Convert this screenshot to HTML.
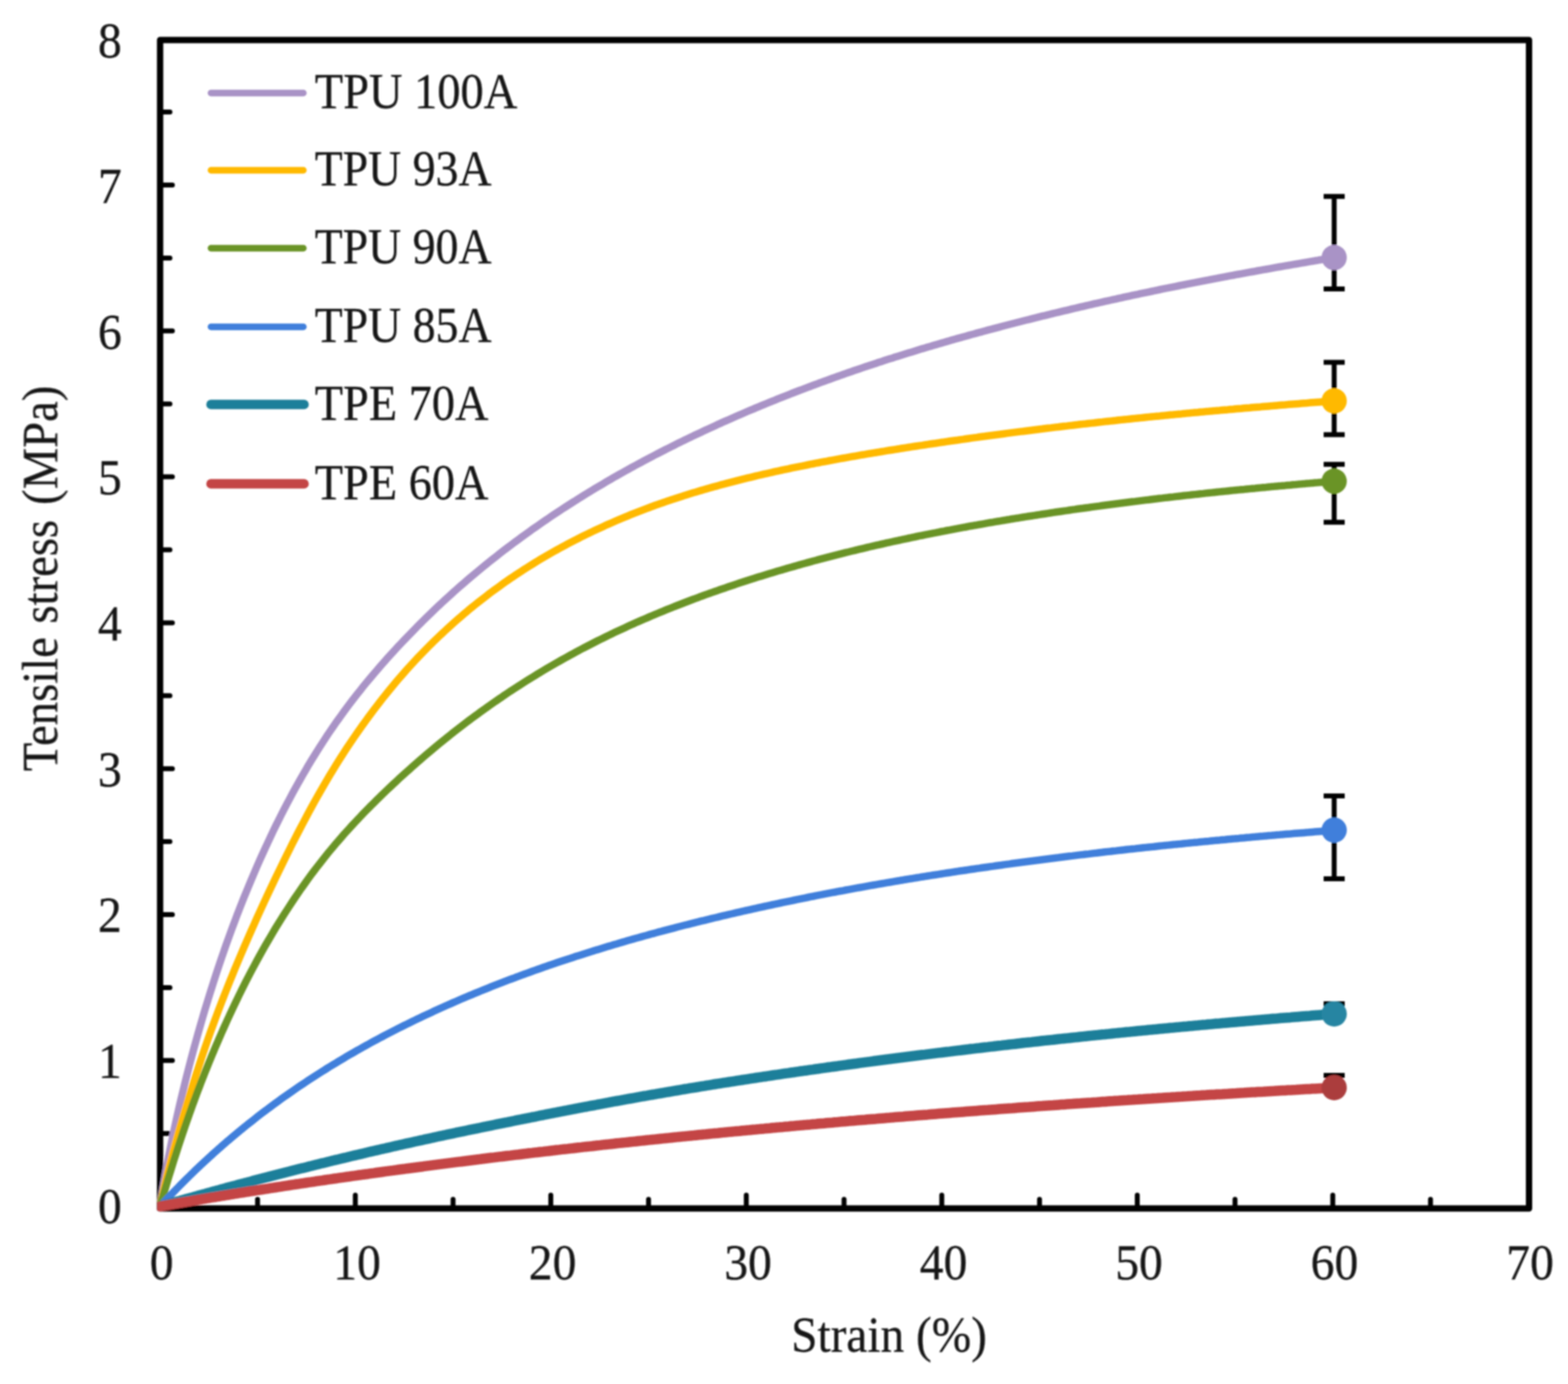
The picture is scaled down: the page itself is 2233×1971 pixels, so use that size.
<!DOCTYPE html>
<html lang="en">
<head>
<meta charset="utf-8">
<title>Tensile stress vs strain</title>
<style>
html,body{margin:0;padding:0;background:#fff;}
body{width:2233px;height:1971px;overflow:hidden;}
svg{display:block;}
text{font-family:"Liberation Serif","DejaVu Serif",serif;fill:#141414;stroke:#141414;stroke-width:0.35px;stroke-linejoin:round;}
</style>
</head>
<body>
<svg width="2233" height="1971" viewBox="0 0 2233 1971">
<defs>
<clipPath id="plotclip"><rect x="223.5" y="57.0" width="1958.5" height="1668.0"/></clipPath>
<filter id="soft" x="0" y="0" width="2233" height="1971" filterUnits="userSpaceOnUse"><feGaussianBlur stdDeviation="1.1"/></filter>
</defs>
<rect x="0" y="0" width="2233" height="1971" fill="#ffffff"/>
<g filter="url(#soft)">

<rect x="228.0" y="57.0" width="1949.5" height="1664.0" fill="none" stroke="#000" stroke-width="9" stroke-linejoin="round"/>
<g stroke="#000" stroke-width="7" stroke-linecap="round" fill="none">
<line x1="366.8" y1="1721.0" x2="366.8" y2="1708.0"/>
<line x1="506.0" y1="1721.0" x2="506.0" y2="1702.0"/>
<line x1="645.2" y1="1721.0" x2="645.2" y2="1708.0"/>
<line x1="784.4" y1="1721.0" x2="784.4" y2="1702.0"/>
<line x1="923.6" y1="1721.0" x2="923.6" y2="1708.0"/>
<line x1="1062.8" y1="1721.0" x2="1062.8" y2="1702.0"/>
<line x1="1202.0" y1="1721.0" x2="1202.0" y2="1708.0"/>
<line x1="1341.2" y1="1721.0" x2="1341.2" y2="1702.0"/>
<line x1="1480.4" y1="1721.0" x2="1480.4" y2="1708.0"/>
<line x1="1619.6" y1="1721.0" x2="1619.6" y2="1702.0"/>
<line x1="1758.8" y1="1721.0" x2="1758.8" y2="1708.0"/>
<line x1="1898.0" y1="1721.0" x2="1898.0" y2="1702.0"/>
<line x1="2037.2" y1="1721.0" x2="2037.2" y2="1708.0"/>
<line x1="228.0" y1="1614.2" x2="242.0" y2="1614.2"/>
<line x1="228.0" y1="1510.3" x2="245.5" y2="1510.3"/>
<line x1="228.0" y1="1406.4" x2="242.0" y2="1406.4"/>
<line x1="228.0" y1="1302.5" x2="245.5" y2="1302.5"/>
<line x1="228.0" y1="1198.6" x2="242.0" y2="1198.6"/>
<line x1="228.0" y1="1094.7" x2="245.5" y2="1094.7"/>
<line x1="228.0" y1="990.8" x2="242.0" y2="990.8"/>
<line x1="228.0" y1="886.9" x2="245.5" y2="886.9"/>
<line x1="228.0" y1="783.0" x2="242.0" y2="783.0"/>
<line x1="228.0" y1="679.1" x2="245.5" y2="679.1"/>
<line x1="228.0" y1="575.2" x2="242.0" y2="575.2"/>
<line x1="228.0" y1="471.3" x2="245.5" y2="471.3"/>
<line x1="228.0" y1="367.4" x2="242.0" y2="367.4"/>
<line x1="228.0" y1="263.5" x2="245.5" y2="263.5"/>
<line x1="228.0" y1="159.6" x2="242.0" y2="159.6"/>
</g>
<g fill="none" stroke-linejoin="round" stroke-linecap="round" clip-path="url(#plotclip)">
<path d="M228.0,1718.0 L230.0,1705.0 L232.0,1692.6 L234.0,1680.8 L236.0,1669.4 L238.0,1658.5 L240.0,1647.9 L242.0,1637.7 L244.0,1627.8 L246.0,1618.1 L248.0,1608.7 L250.0,1599.5 L252.0,1590.5 L254.0,1581.6 L256.0,1573.0 L258.0,1564.5 L260.0,1556.1 L262.0,1547.9 L264.0,1539.8 L266.0,1531.9 L268.0,1524.0 L270.0,1516.3 L272.0,1508.6 L274.0,1501.1 L276.0,1493.7 L278.0,1486.4 L280.0,1479.1 L282.0,1472.0 L284.0,1465.0 L286.0,1458.0 L288.0,1451.1 L290.0,1444.3 L292.0,1437.6 L294.0,1431.0 L296.0,1424.5 L298.0,1418.0 L300.0,1411.6 L302.0,1405.3 L304.0,1399.0 L306.0,1392.8 L308.0,1386.7 L310.0,1380.6 L312.0,1374.6 L314.0,1368.7 L316.0,1362.9 L318.0,1357.1 L320.0,1351.3 L322.0,1345.6 L324.0,1340.0 L326.0,1334.5 L328.0,1329.0 L330.0,1323.5 L332.0,1318.1 L334.0,1312.8 L336.0,1307.5 L338.0,1302.2 L340.0,1297.1 L342.0,1291.9 L344.0,1286.8 L346.0,1281.8 L348.0,1276.8 L350.0,1271.9 L353.9,1262.4 L357.8,1253.1 L361.7,1244.0 L365.5,1235.0 L369.4,1226.2 L373.3,1217.5 L377.2,1209.0 L381.1,1200.6 L385.0,1192.3 L388.8,1184.1 L392.7,1176.1 L396.6,1168.3 L400.5,1160.5 L404.4,1152.9 L408.3,1145.4 L412.2,1138.1 L416.0,1130.8 L419.9,1123.7 L423.8,1116.7 L427.7,1109.8 L431.6,1103.0 L435.5,1096.3 L439.3,1089.7 L443.2,1083.3 L447.1,1076.9 L451.0,1070.7 L454.9,1064.5 L458.8,1058.5 L462.7,1052.5 L466.5,1046.6 L470.4,1040.9 L474.3,1035.2 L478.2,1029.6 L482.1,1024.1 L486.0,1018.7 L489.8,1013.4 L493.7,1008.1 L497.6,1002.9 L501.5,997.8 L505.4,992.8 L509.3,987.8 L513.2,982.9 L517.0,978.1 L520.9,973.3 L524.8,968.6 L528.7,964.0 L532.6,959.4 L536.5,954.8 L540.4,950.3 L544.2,945.9 L548.1,941.5 L552.0,937.1 L555.9,932.8 L559.8,928.5 L563.7,924.3 L567.5,920.1 L571.4,916.0 L575.3,911.9 L579.2,907.8 L583.1,903.8 L587.0,899.8 L590.9,895.8 L594.7,891.9 L598.6,888.0 L602.5,884.1 L606.4,880.3 L610.3,876.5 L614.2,872.7 L618.0,869.0 L621.9,865.3 L625.8,861.6 L629.7,858.0 L633.6,854.4 L637.5,850.9 L641.4,847.3 L645.2,843.8 L649.1,840.4 L653.0,836.9 L656.9,833.5 L660.8,830.2 L664.7,826.8 L668.5,823.5 L672.4,820.2 L676.3,816.9 L680.2,813.7 L684.1,810.5 L688.0,807.3 L691.9,804.1 L695.7,801.0 L699.6,797.9 L703.5,794.8 L707.4,791.8 L711.3,788.7 L715.2,785.7 L719.0,782.7 L722.9,779.8 L726.8,776.8 L730.7,773.9 L734.6,771.0 L738.5,768.2 L742.4,765.3 L746.2,762.5 L750.1,759.7 L754.0,756.9 L757.9,754.1 L761.8,751.4 L765.7,748.7 L769.5,746.0 L773.4,743.3 L777.3,740.6 L781.2,738.0 L785.1,735.3 L789.0,732.7 L792.9,730.1 L796.7,727.6 L800.6,725.0 L804.5,722.5 L808.4,720.0 L812.3,717.5 L816.2,715.0 L820.1,712.6 L823.9,710.1 L827.8,707.7 L831.7,705.3 L835.6,702.9 L839.5,700.5 L843.4,698.1 L847.2,695.8 L851.1,693.5 L855.0,691.2 L858.9,688.9 L862.8,686.6 L866.7,684.3 L870.6,682.1 L874.4,679.8 L878.3,677.6 L882.2,675.4 L886.1,673.2 L890.0,671.0 L893.9,668.9 L897.7,666.7 L901.6,664.6 L905.5,662.5 L909.4,660.4 L913.3,658.3 L917.2,656.2 L921.1,654.1 L924.9,652.1 L928.8,650.1 L932.7,648.0 L936.6,646.0 L940.5,644.0 L944.4,642.0 L948.2,640.0 L952.1,638.1 L956.0,636.1 L959.9,634.2 L963.8,632.2 L967.7,630.3 L971.6,628.4 L975.4,626.5 L979.3,624.6 L983.2,622.8 L987.1,620.9 L991.0,619.0 L994.9,617.2 L998.7,615.4 L1002.6,613.6 L1006.5,611.7 L1010.4,610.0 L1014.3,608.2 L1018.2,606.4 L1022.1,604.6 L1025.9,602.9 L1029.8,601.1 L1033.7,599.4 L1037.6,597.7 L1041.5,595.9 L1045.4,594.2 L1049.2,592.5 L1053.1,590.9 L1057.0,589.2 L1060.9,587.5 L1064.8,585.8 L1068.7,584.2 L1072.6,582.6 L1076.4,580.9 L1080.3,579.3 L1084.2,577.7 L1088.1,576.1 L1092.0,574.5 L1095.9,572.9 L1099.7,571.3 L1103.6,569.8 L1107.5,568.2 L1111.4,566.7 L1115.3,565.1 L1119.2,563.6 L1123.1,562.1 L1126.9,560.5 L1130.8,559.0 L1134.7,557.5 L1138.6,556.0 L1142.5,554.6 L1146.4,553.1 L1150.3,551.6 L1154.1,550.2 L1158.0,548.7 L1161.9,547.3 L1165.8,545.8 L1169.7,544.4 L1173.6,543.0 L1177.4,541.6 L1181.3,540.2 L1185.2,538.8 L1189.1,537.4 L1193.0,536.0 L1196.9,534.6 L1200.8,533.2 L1204.6,531.9 L1208.5,530.5 L1212.4,529.2 L1216.3,527.8 L1220.2,526.5 L1224.1,525.2 L1227.9,523.9 L1231.8,522.6 L1235.7,521.3 L1239.6,520.0 L1243.5,518.7 L1247.4,517.4 L1251.3,516.1 L1255.1,514.9 L1259.0,513.6 L1262.9,512.3 L1266.8,511.1 L1270.7,509.9 L1274.6,508.6 L1278.4,507.4 L1282.3,506.2 L1286.2,505.0 L1290.1,503.8 L1294.0,502.6 L1297.9,501.4 L1301.8,500.2 L1305.6,499.0 L1309.5,497.8 L1313.4,496.6 L1317.3,495.5 L1321.2,494.3 L1325.1,493.2 L1328.9,492.0 L1332.8,490.9 L1336.7,489.7 L1340.6,488.6 L1344.5,487.5 L1348.4,486.4 L1352.3,485.3 L1356.1,484.1 L1360.0,483.0 L1363.9,481.9 L1367.8,480.9 L1371.7,479.8 L1375.6,478.7 L1379.4,477.6 L1383.3,476.5 L1387.2,475.5 L1391.1,474.4 L1395.0,473.3 L1398.9,472.3 L1402.8,471.2 L1406.6,470.2 L1410.5,469.2 L1414.4,468.1 L1418.3,467.1 L1422.2,466.1 L1426.1,465.0 L1429.9,464.0 L1433.8,463.0 L1437.7,462.0 L1441.6,461.0 L1445.5,460.0 L1449.4,459.0 L1453.3,458.0 L1457.1,457.0 L1461.0,456.0 L1464.9,455.1 L1468.8,454.1 L1472.7,453.1 L1476.6,452.2 L1480.5,451.2 L1484.3,450.2 L1488.2,449.3 L1492.1,448.3 L1496.0,447.4 L1499.9,446.4 L1503.8,445.5 L1507.6,444.6 L1511.5,443.6 L1515.4,442.7 L1519.3,441.8 L1523.2,440.9 L1527.1,439.9 L1531.0,439.0 L1534.8,438.1 L1538.7,437.2 L1542.6,436.3 L1546.5,435.4 L1550.4,434.5 L1554.3,433.6 L1558.1,432.7 L1562.0,431.9 L1565.9,431.0 L1569.8,430.1 L1573.7,429.2 L1577.6,428.4 L1581.5,427.5 L1585.3,426.6 L1589.2,425.8 L1593.1,424.9 L1597.0,424.1 L1600.9,423.2 L1604.8,422.4 L1608.6,421.6 L1612.5,420.7 L1616.4,419.9 L1620.3,419.1 L1624.2,418.2 L1628.1,417.4 L1632.0,416.6 L1635.8,415.8 L1639.7,415.0 L1643.6,414.2 L1647.5,413.3 L1651.4,412.5 L1655.3,411.7 L1659.1,410.9 L1663.0,410.2 L1666.9,409.4 L1670.8,408.6 L1674.7,407.8 L1678.6,407.0 L1682.5,406.2 L1686.3,405.5 L1690.2,404.7 L1694.1,403.9 L1698.0,403.1 L1701.9,402.4 L1705.8,401.6 L1709.6,400.9 L1713.5,400.1 L1717.4,399.3 L1721.3,398.6 L1725.2,397.8 L1729.1,397.1 L1733.0,396.4 L1736.8,395.6 L1740.7,394.9 L1744.6,394.2 L1748.5,393.4 L1752.4,392.7 L1756.3,392.0 L1760.2,391.2 L1764.0,390.5 L1767.9,389.8 L1771.8,389.1 L1775.7,388.4 L1779.6,387.7 L1783.5,387.0 L1787.3,386.3 L1791.2,385.5 L1795.1,384.8 L1799.0,384.1 L1802.9,383.5 L1806.8,382.8 L1810.7,382.1 L1814.5,381.4 L1818.4,380.7 L1822.3,380.0 L1826.2,379.3 L1830.1,378.6 L1834.0,378.0 L1837.8,377.3 L1841.7,376.6 L1845.6,376.0 L1849.5,375.3 L1853.4,374.6 L1857.3,374.0 L1861.2,373.3 L1865.0,372.6 L1868.9,372.0 L1872.8,371.3 L1876.7,370.7 L1880.6,370.0 L1884.5,369.4 L1888.3,368.7 L1892.2,368.1 L1896.1,367.4 L1900.0,366.8" stroke="#A993C6" stroke-width="10.5"/>
<path d="M228.0,1718.0 L230.0,1708.5 L232.0,1699.3 L234.0,1690.5 L236.0,1681.9 L238.0,1673.6 L240.0,1665.5 L242.0,1657.6 L244.0,1649.9 L246.0,1642.4 L248.0,1634.9 L250.0,1627.7 L252.0,1620.5 L254.0,1613.4 L256.0,1606.4 L258.0,1599.5 L260.0,1592.7 L262.0,1586.0 L264.0,1579.3 L266.0,1572.7 L268.0,1566.2 L270.0,1559.7 L272.0,1553.3 L274.0,1547.0 L276.0,1540.7 L278.0,1534.4 L280.0,1528.2 L282.0,1522.1 L284.0,1516.0 L286.0,1509.9 L288.0,1503.9 L290.0,1497.9 L292.0,1492.0 L294.0,1486.2 L296.0,1480.4 L298.0,1474.8 L300.0,1469.1 L302.0,1463.6 L304.0,1458.1 L306.0,1452.6 L308.0,1447.2 L310.0,1441.9 L312.0,1436.6 L314.0,1431.3 L316.0,1426.1 L318.0,1421.0 L320.0,1415.9 L322.0,1410.8 L324.0,1405.8 L326.0,1400.8 L328.0,1395.8 L330.0,1390.9 L332.0,1386.0 L334.0,1381.1 L336.0,1376.3 L338.0,1371.5 L340.0,1366.7 L342.0,1362.0 L344.0,1357.2 L346.0,1352.6 L348.0,1347.9 L350.0,1343.3 L353.9,1334.3 L357.8,1325.5 L361.7,1316.8 L365.5,1308.1 L369.4,1299.6 L373.3,1291.1 L377.2,1282.6 L381.1,1274.3 L385.0,1266.0 L388.8,1257.9 L392.7,1249.7 L396.6,1241.7 L400.5,1233.7 L404.4,1225.7 L408.3,1217.8 L412.2,1210.0 L416.0,1202.3 L419.9,1194.6 L423.8,1187.0 L427.7,1179.5 L431.6,1172.1 L435.5,1164.8 L439.3,1157.5 L443.2,1150.4 L447.1,1143.3 L451.0,1136.3 L454.9,1129.4 L458.8,1122.6 L462.7,1115.9 L466.5,1109.3 L470.4,1102.8 L474.3,1096.4 L478.2,1090.1 L482.1,1083.8 L486.0,1077.7 L489.8,1071.7 L493.7,1065.7 L497.6,1059.9 L501.5,1054.1 L505.4,1048.4 L509.3,1042.8 L513.2,1037.3 L517.0,1031.8 L520.9,1026.5 L524.8,1021.1 L528.7,1015.9 L532.6,1010.7 L536.5,1005.6 L540.4,1000.6 L544.2,995.6 L548.1,990.7 L552.0,985.9 L555.9,981.1 L559.8,976.4 L563.7,971.7 L567.5,967.2 L571.4,962.7 L575.3,958.2 L579.2,953.8 L583.1,949.5 L587.0,945.2 L590.9,941.0 L594.7,936.9 L598.6,932.8 L602.5,928.8 L606.4,924.8 L610.3,920.9 L614.2,917.1 L618.0,913.2 L621.9,909.5 L625.8,905.8 L629.7,902.1 L633.6,898.5 L637.5,894.9 L641.4,891.3 L645.2,887.9 L649.1,884.4 L653.0,881.0 L656.9,877.7 L660.8,874.3 L664.7,871.1 L668.5,867.8 L672.4,864.6 L676.3,861.5 L680.2,858.4 L684.1,855.3 L688.0,852.3 L691.9,849.3 L695.7,846.3 L699.6,843.4 L703.5,840.5 L707.4,837.7 L711.3,834.9 L715.2,832.1 L719.0,829.3 L722.9,826.6 L726.8,823.9 L730.7,821.3 L734.6,818.7 L738.5,816.1 L742.4,813.6 L746.2,811.0 L750.1,808.6 L754.0,806.1 L757.9,803.7 L761.8,801.3 L765.7,798.9 L769.5,796.6 L773.4,794.3 L777.3,792.0 L781.2,789.7 L785.1,787.5 L789.0,785.3 L792.9,783.1 L796.7,781.0 L800.6,778.9 L804.5,776.8 L808.4,774.7 L812.3,772.7 L816.2,770.6 L820.1,768.6 L823.9,766.7 L827.8,764.7 L831.7,762.8 L835.6,760.9 L839.5,759.0 L843.4,757.1 L847.2,755.3 L851.1,753.5 L855.0,751.7 L858.9,749.9 L862.8,748.1 L866.7,746.4 L870.6,744.7 L874.4,743.0 L878.3,741.3 L882.2,739.7 L886.1,738.0 L890.0,736.4 L893.9,734.8 L897.7,733.2 L901.6,731.6 L905.5,730.1 L909.4,728.6 L913.3,727.1 L917.2,725.6 L921.1,724.1 L924.9,722.7 L928.8,721.2 L932.7,719.8 L936.6,718.4 L940.5,717.1 L944.4,715.7 L948.2,714.4 L952.1,713.1 L956.0,711.7 L959.9,710.5 L963.8,709.2 L967.7,707.9 L971.6,706.7 L975.4,705.4 L979.3,704.2 L983.2,703.0 L987.1,701.8 L991.0,700.7 L994.9,699.5 L998.7,698.4 L1002.6,697.2 L1006.5,696.1 L1010.4,695.0 L1014.3,693.9 L1018.2,692.8 L1022.1,691.8 L1025.9,690.7 L1029.8,689.7 L1033.7,688.6 L1037.6,687.6 L1041.5,686.6 L1045.4,685.6 L1049.2,684.6 L1053.1,683.6 L1057.0,682.6 L1060.9,681.7 L1064.8,680.7 L1068.7,679.8 L1072.6,678.9 L1076.4,677.9 L1080.3,677.0 L1084.2,676.1 L1088.1,675.2 L1092.0,674.4 L1095.9,673.5 L1099.7,672.6 L1103.6,671.7 L1107.5,670.9 L1111.4,670.0 L1115.3,669.2 L1119.2,668.4 L1123.1,667.6 L1126.9,666.7 L1130.8,665.9 L1134.7,665.1 L1138.6,664.3 L1142.5,663.6 L1146.4,662.8 L1150.3,662.0 L1154.1,661.2 L1158.0,660.5 L1161.9,659.7 L1165.8,659.0 L1169.7,658.2 L1173.6,657.5 L1177.4,656.8 L1181.3,656.0 L1185.2,655.3 L1189.1,654.6 L1193.0,653.9 L1196.9,653.2 L1200.8,652.5 L1204.6,651.8 L1208.5,651.1 L1212.4,650.4 L1216.3,649.8 L1220.2,649.1 L1224.1,648.4 L1227.9,647.7 L1231.8,647.1 L1235.7,646.4 L1239.6,645.8 L1243.5,645.1 L1247.4,644.5 L1251.3,643.8 L1255.1,643.2 L1259.0,642.6 L1262.9,641.9 L1266.8,641.3 L1270.7,640.7 L1274.6,640.1 L1278.4,639.5 L1282.3,638.8 L1286.2,638.2 L1290.1,637.6 L1294.0,637.0 L1297.9,636.4 L1301.8,635.8 L1305.6,635.2 L1309.5,634.6 L1313.4,634.1 L1317.3,633.5 L1321.2,632.9 L1325.1,632.3 L1328.9,631.7 L1332.8,631.2 L1336.7,630.6 L1340.6,630.0 L1344.5,629.5 L1348.4,628.9 L1352.3,628.3 L1356.1,627.8 L1360.0,627.2 L1363.9,626.7 L1367.8,626.1 L1371.7,625.6 L1375.6,625.0 L1379.4,624.5 L1383.3,623.9 L1387.2,623.4 L1391.1,622.9 L1395.0,622.3 L1398.9,621.8 L1402.8,621.3 L1406.6,620.7 L1410.5,620.2 L1414.4,619.7 L1418.3,619.2 L1422.2,618.7 L1426.1,618.2 L1429.9,617.7 L1433.8,617.1 L1437.7,616.6 L1441.6,616.1 L1445.5,615.6 L1449.4,615.1 L1453.3,614.6 L1457.1,614.2 L1461.0,613.7 L1464.9,613.2 L1468.8,612.7 L1472.7,612.2 L1476.6,611.7 L1480.5,611.2 L1484.3,610.8 L1488.2,610.3 L1492.1,609.8 L1496.0,609.4 L1499.9,608.9 L1503.8,608.4 L1507.6,608.0 L1511.5,607.5 L1515.4,607.0 L1519.3,606.6 L1523.2,606.1 L1527.1,605.7 L1531.0,605.2 L1534.8,604.8 L1538.7,604.3 L1542.6,603.9 L1546.5,603.5 L1550.4,603.0 L1554.3,602.6 L1558.1,602.2 L1562.0,601.7 L1565.9,601.3 L1569.8,600.9 L1573.7,600.4 L1577.6,600.0 L1581.5,599.6 L1585.3,599.2 L1589.2,598.8 L1593.1,598.3 L1597.0,597.9 L1600.9,597.5 L1604.8,597.1 L1608.6,596.7 L1612.5,596.3 L1616.4,595.9 L1620.3,595.5 L1624.2,595.1 L1628.1,594.7 L1632.0,594.3 L1635.8,593.9 L1639.7,593.5 L1643.6,593.1 L1647.5,592.7 L1651.4,592.4 L1655.3,592.0 L1659.1,591.6 L1663.0,591.2 L1666.9,590.8 L1670.8,590.5 L1674.7,590.1 L1678.6,589.7 L1682.5,589.4 L1686.3,589.0 L1690.2,588.6 L1694.1,588.3 L1698.0,587.9 L1701.9,587.5 L1705.8,587.2 L1709.6,586.8 L1713.5,586.5 L1717.4,586.1 L1721.3,585.8 L1725.2,585.4 L1729.1,585.1 L1733.0,584.7 L1736.8,584.4 L1740.7,584.0 L1744.6,583.7 L1748.5,583.4 L1752.4,583.0 L1756.3,582.7 L1760.2,582.3 L1764.0,582.0 L1767.9,581.7 L1771.8,581.3 L1775.7,581.0 L1779.6,580.7 L1783.5,580.3 L1787.3,580.0 L1791.2,579.7 L1795.1,579.4 L1799.0,579.0 L1802.9,578.7 L1806.8,578.4 L1810.7,578.1 L1814.5,577.7 L1818.4,577.4 L1822.3,577.1 L1826.2,576.8 L1830.1,576.5 L1834.0,576.1 L1837.8,575.8 L1841.7,575.5 L1845.6,575.2 L1849.5,574.9 L1853.4,574.6 L1857.3,574.3 L1861.2,574.0 L1865.0,573.6 L1868.9,573.3 L1872.8,573.0 L1876.7,572.7 L1880.6,572.4 L1884.5,572.1 L1888.3,571.8 L1892.2,571.5 L1896.1,571.2 L1900.0,570.9" stroke="#FFB900" stroke-width="10.5"/>
<path d="M228.0,1718.0 L230.0,1711.0 L232.0,1704.1 L234.0,1697.2 L236.0,1690.5 L238.0,1683.8 L240.0,1677.1 L242.0,1670.6 L244.0,1664.1 L246.0,1657.7 L248.0,1651.3 L250.0,1645.1 L252.0,1638.8 L254.0,1632.7 L256.0,1626.6 L258.0,1620.6 L260.0,1614.6 L262.0,1608.7 L264.0,1602.9 L266.0,1597.1 L268.0,1591.4 L270.0,1585.8 L272.0,1580.2 L274.0,1574.6 L276.0,1569.1 L278.0,1563.7 L280.0,1558.3 L282.0,1553.0 L284.0,1547.8 L286.0,1542.5 L288.0,1537.4 L290.0,1532.3 L292.0,1527.2 L294.0,1522.2 L296.0,1517.2 L298.0,1512.3 L300.0,1507.5 L302.0,1502.6 L304.0,1497.9 L306.0,1493.1 L308.0,1488.4 L310.0,1483.8 L312.0,1479.1 L314.0,1474.6 L316.0,1470.0 L318.0,1465.5 L320.0,1461.0 L322.0,1456.6 L324.0,1452.2 L326.0,1447.8 L328.0,1443.5 L330.0,1439.2 L332.0,1435.0 L334.0,1430.7 L336.0,1426.6 L338.0,1422.4 L340.0,1418.3 L342.0,1414.2 L344.0,1410.2 L346.0,1406.2 L348.0,1402.2 L350.0,1398.2 L353.9,1390.7 L357.8,1383.2 L361.7,1375.9 L365.5,1368.7 L369.4,1361.6 L373.3,1354.6 L377.2,1347.7 L381.1,1341.0 L385.0,1334.3 L388.8,1327.8 L392.7,1321.3 L396.6,1314.9 L400.5,1308.7 L404.4,1302.5 L408.3,1296.5 L412.2,1290.5 L416.0,1284.6 L419.9,1278.8 L423.8,1273.1 L427.7,1267.4 L431.6,1261.9 L435.5,1256.4 L439.3,1251.0 L443.2,1245.7 L447.1,1240.5 L451.0,1235.4 L454.9,1230.4 L458.8,1225.4 L462.7,1220.5 L466.5,1215.7 L470.4,1211.0 L474.3,1206.3 L478.2,1201.7 L482.1,1197.2 L486.0,1192.7 L489.8,1188.3 L493.7,1184.0 L497.6,1179.7 L501.5,1175.4 L505.4,1171.2 L509.3,1167.1 L513.2,1163.0 L517.0,1158.9 L520.9,1154.9 L524.8,1151.0 L528.7,1147.0 L532.6,1143.2 L536.5,1139.3 L540.4,1135.5 L544.2,1131.7 L548.1,1128.0 L552.0,1124.3 L555.9,1120.6 L559.8,1116.9 L563.7,1113.3 L567.5,1109.7 L571.4,1106.2 L575.3,1102.6 L579.2,1099.1 L583.1,1095.7 L587.0,1092.2 L590.9,1088.8 L594.7,1085.4 L598.6,1082.0 L602.5,1078.6 L606.4,1075.3 L610.3,1072.0 L614.2,1068.7 L618.0,1065.5 L621.9,1062.2 L625.8,1059.0 L629.7,1055.9 L633.6,1052.7 L637.5,1049.6 L641.4,1046.5 L645.2,1043.4 L649.1,1040.4 L653.0,1037.4 L656.9,1034.4 L660.8,1031.4 L664.7,1028.4 L668.5,1025.5 L672.4,1022.6 L676.3,1019.7 L680.2,1016.9 L684.1,1014.0 L688.0,1011.2 L691.9,1008.5 L695.7,1005.7 L699.6,1003.0 L703.5,1000.3 L707.4,997.6 L711.3,994.9 L715.2,992.3 L719.0,989.6 L722.9,987.0 L726.8,984.4 L730.7,981.9 L734.6,979.4 L738.5,976.8 L742.4,974.3 L746.2,971.9 L750.1,969.4 L754.0,967.0 L757.9,964.6 L761.8,962.2 L765.7,959.8 L769.5,957.5 L773.4,955.1 L777.3,952.8 L781.2,950.5 L785.1,948.3 L789.0,946.0 L792.9,943.8 L796.7,941.6 L800.6,939.4 L804.5,937.2 L808.4,935.1 L812.3,932.9 L816.2,930.8 L820.1,928.7 L823.9,926.6 L827.8,924.5 L831.7,922.5 L835.6,920.5 L839.5,918.5 L843.4,916.5 L847.2,914.5 L851.1,912.5 L855.0,910.6 L858.9,908.7 L862.8,906.8 L866.7,904.9 L870.6,903.0 L874.4,901.1 L878.3,899.3 L882.2,897.5 L886.1,895.7 L890.0,893.9 L893.9,892.1 L897.7,890.3 L901.6,888.6 L905.5,886.8 L909.4,885.1 L913.3,883.4 L917.2,881.7 L921.1,880.1 L924.9,878.4 L928.8,876.7 L932.7,875.1 L936.6,873.5 L940.5,871.9 L944.4,870.3 L948.2,868.7 L952.1,867.1 L956.0,865.6 L959.9,864.0 L963.8,862.5 L967.7,861.0 L971.6,859.5 L975.4,858.0 L979.3,856.5 L983.2,855.0 L987.1,853.5 L991.0,852.1 L994.9,850.7 L998.7,849.2 L1002.6,847.8 L1006.5,846.4 L1010.4,845.0 L1014.3,843.6 L1018.2,842.2 L1022.1,840.9 L1025.9,839.5 L1029.8,838.2 L1033.7,836.9 L1037.6,835.5 L1041.5,834.2 L1045.4,832.9 L1049.2,831.6 L1053.1,830.3 L1057.0,829.1 L1060.9,827.8 L1064.8,826.5 L1068.7,825.3 L1072.6,824.1 L1076.4,822.8 L1080.3,821.6 L1084.2,820.4 L1088.1,819.2 L1092.0,818.0 L1095.9,816.8 L1099.7,815.7 L1103.6,814.5 L1107.5,813.3 L1111.4,812.2 L1115.3,811.1 L1119.2,809.9 L1123.1,808.8 L1126.9,807.7 L1130.8,806.6 L1134.7,805.5 L1138.6,804.4 L1142.5,803.3 L1146.4,802.2 L1150.3,801.1 L1154.1,800.1 L1158.0,799.0 L1161.9,798.0 L1165.8,796.9 L1169.7,795.9 L1173.6,794.9 L1177.4,793.9 L1181.3,792.9 L1185.2,791.9 L1189.1,790.9 L1193.0,789.9 L1196.9,788.9 L1200.8,787.9 L1204.6,786.9 L1208.5,786.0 L1212.4,785.0 L1216.3,784.1 L1220.2,783.1 L1224.1,782.2 L1227.9,781.3 L1231.8,780.4 L1235.7,779.4 L1239.6,778.5 L1243.5,777.6 L1247.4,776.7 L1251.3,775.8 L1255.1,775.0 L1259.0,774.1 L1262.9,773.2 L1266.8,772.4 L1270.7,771.5 L1274.6,770.6 L1278.4,769.8 L1282.3,769.0 L1286.2,768.1 L1290.1,767.3 L1294.0,766.5 L1297.9,765.7 L1301.8,764.8 L1305.6,764.0 L1309.5,763.2 L1313.4,762.5 L1317.3,761.7 L1321.2,760.9 L1325.1,760.1 L1328.9,759.3 L1332.8,758.6 L1336.7,757.8 L1340.6,757.0 L1344.5,756.3 L1348.4,755.5 L1352.3,754.8 L1356.1,754.1 L1360.0,753.3 L1363.9,752.6 L1367.8,751.9 L1371.7,751.2 L1375.6,750.5 L1379.4,749.7 L1383.3,749.0 L1387.2,748.3 L1391.1,747.7 L1395.0,747.0 L1398.9,746.3 L1402.8,745.6 L1406.6,744.9 L1410.5,744.2 L1414.4,743.6 L1418.3,742.9 L1422.2,742.3 L1426.1,741.6 L1429.9,741.0 L1433.8,740.3 L1437.7,739.7 L1441.6,739.0 L1445.5,738.4 L1449.4,737.8 L1453.3,737.1 L1457.1,736.5 L1461.0,735.9 L1464.9,735.3 L1468.8,734.7 L1472.7,734.1 L1476.6,733.5 L1480.5,732.9 L1484.3,732.3 L1488.2,731.7 L1492.1,731.1 L1496.0,730.5 L1499.9,729.9 L1503.8,729.3 L1507.6,728.8 L1511.5,728.2 L1515.4,727.6 L1519.3,727.1 L1523.2,726.5 L1527.1,725.9 L1531.0,725.4 L1534.8,724.8 L1538.7,724.3 L1542.6,723.8 L1546.5,723.2 L1550.4,722.7 L1554.3,722.1 L1558.1,721.6 L1562.0,721.1 L1565.9,720.6 L1569.8,720.0 L1573.7,719.5 L1577.6,719.0 L1581.5,718.5 L1585.3,718.0 L1589.2,717.5 L1593.1,717.0 L1597.0,716.5 L1600.9,716.0 L1604.8,715.5 L1608.6,715.0 L1612.5,714.5 L1616.4,714.1 L1620.3,713.6 L1624.2,713.1 L1628.1,712.6 L1632.0,712.1 L1635.8,711.7 L1639.7,711.2 L1643.6,710.7 L1647.5,710.3 L1651.4,709.8 L1655.3,709.4 L1659.1,708.9 L1663.0,708.5 L1666.9,708.0 L1670.8,707.6 L1674.7,707.1 L1678.6,706.7 L1682.5,706.3 L1686.3,705.8 L1690.2,705.4 L1694.1,705.0 L1698.0,704.5 L1701.9,704.1 L1705.8,703.7 L1709.6,703.3 L1713.5,702.9 L1717.4,702.4 L1721.3,702.0 L1725.2,701.6 L1729.1,701.2 L1733.0,700.8 L1736.8,700.4 L1740.7,700.0 L1744.6,699.6 L1748.5,699.2 L1752.4,698.8 L1756.3,698.4 L1760.2,698.0 L1764.0,697.6 L1767.9,697.2 L1771.8,696.9 L1775.7,696.5 L1779.6,696.1 L1783.5,695.7 L1787.3,695.4 L1791.2,695.0 L1795.1,694.6 L1799.0,694.2 L1802.9,693.9 L1806.8,693.5 L1810.7,693.1 L1814.5,692.8 L1818.4,692.4 L1822.3,692.1 L1826.2,691.7 L1830.1,691.4 L1834.0,691.0 L1837.8,690.7 L1841.7,690.3 L1845.6,690.0 L1849.5,689.6 L1853.4,689.3 L1857.3,688.9 L1861.2,688.6 L1865.0,688.3 L1868.9,687.9 L1872.8,687.6 L1876.7,687.3 L1880.6,686.9 L1884.5,686.6 L1888.3,686.3 L1892.2,685.9 L1896.1,685.6 L1900.0,685.3" stroke="#6B9427" stroke-width="10.5"/>
<path d="M228.0,1718.0 L230.0,1715.8 L232.0,1713.7 L234.0,1711.5 L236.0,1709.4 L238.0,1707.2 L240.0,1705.1 L242.0,1703.0 L244.0,1700.9 L246.0,1698.8 L248.0,1696.7 L250.0,1694.7 L252.0,1692.6 L254.0,1690.6 L256.0,1688.5 L258.0,1686.5 L260.0,1684.5 L262.0,1682.5 L264.0,1680.5 L266.0,1678.5 L268.0,1676.6 L270.0,1674.6 L272.0,1672.6 L274.0,1670.7 L276.0,1668.8 L278.0,1666.8 L280.0,1664.9 L282.0,1663.0 L284.0,1661.1 L286.0,1659.2 L288.0,1657.4 L290.0,1655.5 L292.0,1653.6 L294.0,1651.8 L296.0,1650.0 L298.0,1648.1 L300.0,1646.3 L302.0,1644.5 L304.0,1642.7 L306.0,1640.9 L308.0,1639.1 L310.0,1637.3 L312.0,1635.6 L314.0,1633.8 L316.0,1632.0 L318.0,1630.3 L320.0,1628.6 L322.0,1626.8 L324.0,1625.1 L326.0,1623.4 L328.0,1621.7 L330.0,1620.0 L332.0,1618.3 L334.0,1616.7 L336.0,1615.0 L338.0,1613.3 L340.0,1611.7 L342.0,1610.0 L344.0,1608.4 L346.0,1606.8 L348.0,1605.1 L350.0,1603.5 L353.9,1600.4 L357.8,1597.3 L361.7,1594.3 L365.5,1591.2 L369.4,1588.2 L373.3,1585.2 L377.2,1582.3 L381.1,1579.4 L385.0,1576.5 L388.8,1573.6 L392.7,1570.7 L396.6,1567.9 L400.5,1565.1 L404.4,1562.3 L408.3,1559.6 L412.2,1556.9 L416.0,1554.2 L419.9,1551.5 L423.8,1548.8 L427.7,1546.2 L431.6,1543.6 L435.5,1541.0 L439.3,1538.4 L443.2,1535.9 L447.1,1533.3 L451.0,1530.8 L454.9,1528.4 L458.8,1525.9 L462.7,1523.5 L466.5,1521.0 L470.4,1518.6 L474.3,1516.2 L478.2,1513.9 L482.1,1511.5 L486.0,1509.2 L489.8,1506.9 L493.7,1504.6 L497.6,1502.3 L501.5,1500.1 L505.4,1497.9 L509.3,1495.6 L513.2,1493.5 L517.0,1491.3 L520.9,1489.1 L524.8,1487.0 L528.7,1484.8 L532.6,1482.7 L536.5,1480.6 L540.4,1478.5 L544.2,1476.5 L548.1,1474.4 L552.0,1472.4 L555.9,1470.4 L559.8,1468.4 L563.7,1466.4 L567.5,1464.4 L571.4,1462.5 L575.3,1460.5 L579.2,1458.6 L583.1,1456.7 L587.0,1454.8 L590.9,1452.9 L594.7,1451.0 L598.6,1449.2 L602.5,1447.3 L606.4,1445.5 L610.3,1443.7 L614.2,1441.9 L618.0,1440.1 L621.9,1438.3 L625.8,1436.5 L629.7,1434.8 L633.6,1433.0 L637.5,1431.3 L641.4,1429.6 L645.2,1427.9 L649.1,1426.2 L653.0,1424.5 L656.9,1422.8 L660.8,1421.2 L664.7,1419.5 L668.5,1417.9 L672.4,1416.3 L676.3,1414.7 L680.2,1413.1 L684.1,1411.5 L688.0,1409.9 L691.9,1408.3 L695.7,1406.8 L699.6,1405.2 L703.5,1403.7 L707.4,1402.2 L711.3,1400.7 L715.2,1399.2 L719.0,1397.7 L722.9,1396.2 L726.8,1394.7 L730.7,1393.3 L734.6,1391.8 L738.5,1390.4 L742.4,1388.9 L746.2,1387.5 L750.1,1386.1 L754.0,1384.7 L757.9,1383.3 L761.8,1381.9 L765.7,1380.5 L769.5,1379.2 L773.4,1377.8 L777.3,1376.4 L781.2,1375.1 L785.1,1373.8 L789.0,1372.4 L792.9,1371.1 L796.7,1369.8 L800.6,1368.5 L804.5,1367.2 L808.4,1365.9 L812.3,1364.7 L816.2,1363.4 L820.1,1362.1 L823.9,1360.9 L827.8,1359.7 L831.7,1358.4 L835.6,1357.2 L839.5,1356.0 L843.4,1354.8 L847.2,1353.5 L851.1,1352.4 L855.0,1351.2 L858.9,1350.0 L862.8,1348.8 L866.7,1347.6 L870.6,1346.5 L874.4,1345.3 L878.3,1344.2 L882.2,1343.0 L886.1,1341.9 L890.0,1340.8 L893.9,1339.6 L897.7,1338.5 L901.6,1337.4 L905.5,1336.3 L909.4,1335.2 L913.3,1334.1 L917.2,1333.0 L921.1,1332.0 L924.9,1330.9 L928.8,1329.8 L932.7,1328.8 L936.6,1327.7 L940.5,1326.7 L944.4,1325.6 L948.2,1324.6 L952.1,1323.6 L956.0,1322.6 L959.9,1321.6 L963.8,1320.5 L967.7,1319.5 L971.6,1318.5 L975.4,1317.5 L979.3,1316.6 L983.2,1315.6 L987.1,1314.6 L991.0,1313.6 L994.9,1312.7 L998.7,1311.7 L1002.6,1310.8 L1006.5,1309.8 L1010.4,1308.9 L1014.3,1307.9 L1018.2,1307.0 L1022.1,1306.1 L1025.9,1305.1 L1029.8,1304.2 L1033.7,1303.3 L1037.6,1302.4 L1041.5,1301.5 L1045.4,1300.6 L1049.2,1299.7 L1053.1,1298.8 L1057.0,1297.9 L1060.9,1297.0 L1064.8,1296.2 L1068.7,1295.3 L1072.6,1294.4 L1076.4,1293.6 L1080.3,1292.7 L1084.2,1291.8 L1088.1,1291.0 L1092.0,1290.2 L1095.9,1289.3 L1099.7,1288.5 L1103.6,1287.7 L1107.5,1286.8 L1111.4,1286.0 L1115.3,1285.2 L1119.2,1284.4 L1123.1,1283.6 L1126.9,1282.8 L1130.8,1282.0 L1134.7,1281.2 L1138.6,1280.4 L1142.5,1279.6 L1146.4,1278.8 L1150.3,1278.0 L1154.1,1277.2 L1158.0,1276.5 L1161.9,1275.7 L1165.8,1274.9 L1169.7,1274.2 L1173.6,1273.4 L1177.4,1272.7 L1181.3,1271.9 L1185.2,1271.2 L1189.1,1270.5 L1193.0,1269.7 L1196.9,1269.0 L1200.8,1268.3 L1204.6,1267.5 L1208.5,1266.8 L1212.4,1266.1 L1216.3,1265.4 L1220.2,1264.7 L1224.1,1264.0 L1227.9,1263.3 L1231.8,1262.6 L1235.7,1261.9 L1239.6,1261.2 L1243.5,1260.5 L1247.4,1259.8 L1251.3,1259.1 L1255.1,1258.5 L1259.0,1257.8 L1262.9,1257.1 L1266.8,1256.5 L1270.7,1255.8 L1274.6,1255.1 L1278.4,1254.5 L1282.3,1253.8 L1286.2,1253.2 L1290.1,1252.5 L1294.0,1251.9 L1297.9,1251.3 L1301.8,1250.6 L1305.6,1250.0 L1309.5,1249.4 L1313.4,1248.7 L1317.3,1248.1 L1321.2,1247.5 L1325.1,1246.9 L1328.9,1246.3 L1332.8,1245.7 L1336.7,1245.1 L1340.6,1244.5 L1344.5,1243.9 L1348.4,1243.3 L1352.3,1242.7 L1356.1,1242.1 L1360.0,1241.5 L1363.9,1240.9 L1367.8,1240.3 L1371.7,1239.8 L1375.6,1239.2 L1379.4,1238.6 L1383.3,1238.0 L1387.2,1237.5 L1391.1,1236.9 L1395.0,1236.4 L1398.9,1235.8 L1402.8,1235.2 L1406.6,1234.7 L1410.5,1234.1 L1414.4,1233.6 L1418.3,1233.0 L1422.2,1232.5 L1426.1,1232.0 L1429.9,1231.4 L1433.8,1230.9 L1437.7,1230.4 L1441.6,1229.8 L1445.5,1229.3 L1449.4,1228.8 L1453.3,1228.3 L1457.1,1227.8 L1461.0,1227.2 L1464.9,1226.7 L1468.8,1226.2 L1472.7,1225.7 L1476.6,1225.2 L1480.5,1224.7 L1484.3,1224.2 L1488.2,1223.7 L1492.1,1223.2 L1496.0,1222.7 L1499.9,1222.2 L1503.8,1221.7 L1507.6,1221.3 L1511.5,1220.8 L1515.4,1220.3 L1519.3,1219.8 L1523.2,1219.3 L1527.1,1218.9 L1531.0,1218.4 L1534.8,1217.9 L1538.7,1217.4 L1542.6,1217.0 L1546.5,1216.5 L1550.4,1216.1 L1554.3,1215.6 L1558.1,1215.1 L1562.0,1214.7 L1565.9,1214.2 L1569.8,1213.8 L1573.7,1213.3 L1577.6,1212.9 L1581.5,1212.5 L1585.3,1212.0 L1589.2,1211.6 L1593.1,1211.1 L1597.0,1210.7 L1600.9,1210.3 L1604.8,1209.8 L1608.6,1209.4 L1612.5,1209.0 L1616.4,1208.6 L1620.3,1208.1 L1624.2,1207.7 L1628.1,1207.3 L1632.0,1206.9 L1635.8,1206.5 L1639.7,1206.1 L1643.6,1205.7 L1647.5,1205.2 L1651.4,1204.8 L1655.3,1204.4 L1659.1,1204.0 L1663.0,1203.6 L1666.9,1203.2 L1670.8,1202.8 L1674.7,1202.4 L1678.6,1202.1 L1682.5,1201.7 L1686.3,1201.3 L1690.2,1200.9 L1694.1,1200.5 L1698.0,1200.1 L1701.9,1199.7 L1705.8,1199.4 L1709.6,1199.0 L1713.5,1198.6 L1717.4,1198.2 L1721.3,1197.9 L1725.2,1197.5 L1729.1,1197.1 L1733.0,1196.7 L1736.8,1196.4 L1740.7,1196.0 L1744.6,1195.7 L1748.5,1195.3 L1752.4,1194.9 L1756.3,1194.6 L1760.2,1194.2 L1764.0,1193.9 L1767.9,1193.5 L1771.8,1193.2 L1775.7,1192.8 L1779.6,1192.5 L1783.5,1192.1 L1787.3,1191.8 L1791.2,1191.4 L1795.1,1191.1 L1799.0,1190.8 L1802.9,1190.4 L1806.8,1190.1 L1810.7,1189.8 L1814.5,1189.4 L1818.4,1189.1 L1822.3,1188.8 L1826.2,1188.4 L1830.1,1188.1 L1834.0,1187.8 L1837.8,1187.5 L1841.7,1187.1 L1845.6,1186.8 L1849.5,1186.5 L1853.4,1186.2 L1857.3,1185.9 L1861.2,1185.6 L1865.0,1185.2 L1868.9,1184.9 L1872.8,1184.6 L1876.7,1184.3 L1880.6,1184.0 L1884.5,1183.7 L1888.3,1183.4 L1892.2,1183.1 L1896.1,1182.8 L1900.0,1182.5" stroke="#3F7FDB" stroke-width="10.5"/>
<path d="M228.0,1718.0 L230.0,1717.4 L232.0,1716.9 L234.0,1716.3 L236.0,1715.8 L238.0,1715.2 L240.0,1714.7 L242.0,1714.1 L244.0,1713.5 L246.0,1713.0 L248.0,1712.4 L250.0,1711.9 L252.0,1711.3 L254.0,1710.7 L256.0,1710.2 L258.0,1709.6 L260.0,1709.1 L262.0,1708.5 L264.0,1707.9 L266.0,1707.4 L268.0,1706.8 L270.0,1706.3 L272.0,1705.7 L274.0,1705.2 L276.0,1704.6 L278.0,1704.0 L280.0,1703.5 L282.0,1702.9 L284.0,1702.4 L286.0,1701.8 L288.0,1701.3 L290.0,1700.7 L292.0,1700.2 L294.0,1699.6 L296.0,1699.1 L298.0,1698.5 L300.0,1698.0 L302.0,1697.4 L304.0,1696.9 L306.0,1696.3 L308.0,1695.8 L310.0,1695.2 L312.0,1694.7 L314.0,1694.1 L316.0,1693.6 L318.0,1693.0 L320.0,1692.5 L322.0,1691.9 L324.0,1691.4 L326.0,1690.9 L328.0,1690.3 L330.0,1689.8 L332.0,1689.2 L334.0,1688.7 L336.0,1688.2 L338.0,1687.6 L340.0,1687.1 L342.0,1686.6 L344.0,1686.0 L346.0,1685.5 L348.0,1685.0 L350.0,1684.4 L353.9,1683.4 L357.8,1682.4 L361.7,1681.3 L365.5,1680.3 L369.4,1679.3 L373.3,1678.3 L377.2,1677.3 L381.1,1676.3 L385.0,1675.2 L388.8,1674.2 L392.7,1673.2 L396.6,1672.2 L400.5,1671.2 L404.4,1670.2 L408.3,1669.2 L412.2,1668.3 L416.0,1667.3 L419.9,1666.3 L423.8,1665.3 L427.7,1664.3 L431.6,1663.4 L435.5,1662.4 L439.3,1661.4 L443.2,1660.5 L447.1,1659.5 L451.0,1658.5 L454.9,1657.6 L458.8,1656.6 L462.7,1655.7 L466.5,1654.7 L470.4,1653.8 L474.3,1652.8 L478.2,1651.9 L482.1,1651.0 L486.0,1650.0 L489.8,1649.1 L493.7,1648.2 L497.6,1647.2 L501.5,1646.3 L505.4,1645.4 L509.3,1644.5 L513.2,1643.6 L517.0,1642.7 L520.9,1641.7 L524.8,1640.8 L528.7,1639.9 L532.6,1639.0 L536.5,1638.1 L540.4,1637.2 L544.2,1636.3 L548.1,1635.5 L552.0,1634.6 L555.9,1633.7 L559.8,1632.8 L563.7,1631.9 L567.5,1631.0 L571.4,1630.2 L575.3,1629.3 L579.2,1628.4 L583.1,1627.6 L587.0,1626.7 L590.9,1625.8 L594.7,1625.0 L598.6,1624.1 L602.5,1623.3 L606.4,1622.4 L610.3,1621.6 L614.2,1620.7 L618.0,1619.9 L621.9,1619.0 L625.8,1618.2 L629.7,1617.4 L633.6,1616.5 L637.5,1615.7 L641.4,1614.9 L645.2,1614.1 L649.1,1613.2 L653.0,1612.4 L656.9,1611.6 L660.8,1610.8 L664.7,1610.0 L668.5,1609.2 L672.4,1608.4 L676.3,1607.6 L680.2,1606.8 L684.1,1606.0 L688.0,1605.2 L691.9,1604.4 L695.7,1603.6 L699.6,1602.8 L703.5,1602.0 L707.4,1601.2 L711.3,1600.4 L715.2,1599.6 L719.0,1598.8 L722.9,1598.1 L726.8,1597.3 L730.7,1596.5 L734.6,1595.7 L738.5,1594.9 L742.4,1594.2 L746.2,1593.4 L750.1,1592.6 L754.0,1591.8 L757.9,1591.0 L761.8,1590.3 L765.7,1589.5 L769.5,1588.7 L773.4,1588.0 L777.3,1587.2 L781.2,1586.4 L785.1,1585.7 L789.0,1584.9 L792.9,1584.2 L796.7,1583.4 L800.6,1582.7 L804.5,1581.9 L808.4,1581.2 L812.3,1580.4 L816.2,1579.7 L820.1,1578.9 L823.9,1578.2 L827.8,1577.4 L831.7,1576.7 L835.6,1576.0 L839.5,1575.2 L843.4,1574.5 L847.2,1573.8 L851.1,1573.0 L855.0,1572.3 L858.9,1571.6 L862.8,1570.9 L866.7,1570.2 L870.6,1569.4 L874.4,1568.7 L878.3,1568.0 L882.2,1567.3 L886.1,1566.6 L890.0,1565.9 L893.9,1565.2 L897.7,1564.5 L901.6,1563.8 L905.5,1563.1 L909.4,1562.4 L913.3,1561.7 L917.2,1561.0 L921.1,1560.4 L924.9,1559.7 L928.8,1559.0 L932.7,1558.3 L936.6,1557.6 L940.5,1557.0 L944.4,1556.3 L948.2,1555.6 L952.1,1555.0 L956.0,1554.3 L959.9,1553.6 L963.8,1553.0 L967.7,1552.3 L971.6,1551.7 L975.4,1551.0 L979.3,1550.4 L983.2,1549.7 L987.1,1549.1 L991.0,1548.5 L994.9,1547.8 L998.7,1547.2 L1002.6,1546.6 L1006.5,1545.9 L1010.4,1545.3 L1014.3,1544.7 L1018.2,1544.0 L1022.1,1543.4 L1025.9,1542.8 L1029.8,1542.2 L1033.7,1541.6 L1037.6,1541.0 L1041.5,1540.4 L1045.4,1539.8 L1049.2,1539.2 L1053.1,1538.6 L1057.0,1538.0 L1060.9,1537.4 L1064.8,1536.8 L1068.7,1536.2 L1072.6,1535.6 L1076.4,1535.0 L1080.3,1534.4 L1084.2,1533.8 L1088.1,1533.2 L1092.0,1532.7 L1095.9,1532.1 L1099.7,1531.5 L1103.6,1530.9 L1107.5,1530.4 L1111.4,1529.8 L1115.3,1529.2 L1119.2,1528.6 L1123.1,1528.1 L1126.9,1527.5 L1130.8,1527.0 L1134.7,1526.4 L1138.6,1525.8 L1142.5,1525.3 L1146.4,1524.7 L1150.3,1524.2 L1154.1,1523.6 L1158.0,1523.1 L1161.9,1522.5 L1165.8,1522.0 L1169.7,1521.4 L1173.6,1520.9 L1177.4,1520.3 L1181.3,1519.8 L1185.2,1519.2 L1189.1,1518.7 L1193.0,1518.2 L1196.9,1517.6 L1200.8,1517.1 L1204.6,1516.6 L1208.5,1516.0 L1212.4,1515.5 L1216.3,1515.0 L1220.2,1514.5 L1224.1,1513.9 L1227.9,1513.4 L1231.8,1512.9 L1235.7,1512.4 L1239.6,1511.9 L1243.5,1511.3 L1247.4,1510.8 L1251.3,1510.3 L1255.1,1509.8 L1259.0,1509.3 L1262.9,1508.8 L1266.8,1508.3 L1270.7,1507.8 L1274.6,1507.3 L1278.4,1506.8 L1282.3,1506.3 L1286.2,1505.8 L1290.1,1505.3 L1294.0,1504.8 L1297.9,1504.3 L1301.8,1503.8 L1305.6,1503.3 L1309.5,1502.8 L1313.4,1502.3 L1317.3,1501.9 L1321.2,1501.4 L1325.1,1500.9 L1328.9,1500.4 L1332.8,1499.9 L1336.7,1499.4 L1340.6,1499.0 L1344.5,1498.5 L1348.4,1498.0 L1352.3,1497.6 L1356.1,1497.1 L1360.0,1496.6 L1363.9,1496.1 L1367.8,1495.7 L1371.7,1495.2 L1375.6,1494.7 L1379.4,1494.3 L1383.3,1493.8 L1387.2,1493.4 L1391.1,1492.9 L1395.0,1492.5 L1398.9,1492.0 L1402.8,1491.5 L1406.6,1491.1 L1410.5,1490.6 L1414.4,1490.2 L1418.3,1489.7 L1422.2,1489.3 L1426.1,1488.9 L1429.9,1488.4 L1433.8,1488.0 L1437.7,1487.5 L1441.6,1487.1 L1445.5,1486.7 L1449.4,1486.2 L1453.3,1485.8 L1457.1,1485.3 L1461.0,1484.9 L1464.9,1484.5 L1468.8,1484.1 L1472.7,1483.6 L1476.6,1483.2 L1480.5,1482.8 L1484.3,1482.3 L1488.2,1481.9 L1492.1,1481.5 L1496.0,1481.1 L1499.9,1480.7 L1503.8,1480.2 L1507.6,1479.8 L1511.5,1479.4 L1515.4,1479.0 L1519.3,1478.6 L1523.2,1478.2 L1527.1,1477.8 L1531.0,1477.4 L1534.8,1477.0 L1538.7,1476.5 L1542.6,1476.1 L1546.5,1475.7 L1550.4,1475.3 L1554.3,1474.9 L1558.1,1474.5 L1562.0,1474.1 L1565.9,1473.7 L1569.8,1473.3 L1573.7,1473.0 L1577.6,1472.6 L1581.5,1472.2 L1585.3,1471.8 L1589.2,1471.4 L1593.1,1471.0 L1597.0,1470.6 L1600.9,1470.2 L1604.8,1469.8 L1608.6,1469.5 L1612.5,1469.1 L1616.4,1468.7 L1620.3,1468.3 L1624.2,1467.9 L1628.1,1467.6 L1632.0,1467.2 L1635.8,1466.8 L1639.7,1466.4 L1643.6,1466.1 L1647.5,1465.7 L1651.4,1465.3 L1655.3,1464.9 L1659.1,1464.6 L1663.0,1464.2 L1666.9,1463.8 L1670.8,1463.5 L1674.7,1463.1 L1678.6,1462.8 L1682.5,1462.4 L1686.3,1462.0 L1690.2,1461.7 L1694.1,1461.3 L1698.0,1461.0 L1701.9,1460.6 L1705.8,1460.3 L1709.6,1459.9 L1713.5,1459.5 L1717.4,1459.2 L1721.3,1458.8 L1725.2,1458.5 L1729.1,1458.1 L1733.0,1457.8 L1736.8,1457.5 L1740.7,1457.1 L1744.6,1456.8 L1748.5,1456.4 L1752.4,1456.1 L1756.3,1455.7 L1760.2,1455.4 L1764.0,1455.1 L1767.9,1454.7 L1771.8,1454.4 L1775.7,1454.1 L1779.6,1453.7 L1783.5,1453.4 L1787.3,1453.1 L1791.2,1452.7 L1795.1,1452.4 L1799.0,1452.1 L1802.9,1451.7 L1806.8,1451.4 L1810.7,1451.1 L1814.5,1450.8 L1818.4,1450.5 L1822.3,1450.1 L1826.2,1449.8 L1830.1,1449.5 L1834.0,1449.2 L1837.8,1448.9 L1841.7,1448.5 L1845.6,1448.2 L1849.5,1447.9 L1853.4,1447.6 L1857.3,1447.3 L1861.2,1447.0 L1865.0,1446.7 L1868.9,1446.3 L1872.8,1446.0 L1876.7,1445.7 L1880.6,1445.4 L1884.5,1445.1 L1888.3,1444.8 L1892.2,1444.5 L1896.1,1444.2 L1900.0,1443.9" stroke="#1F7F9A" stroke-width="14.5"/>
<path d="M228.0,1718.0 L230.0,1717.6 L232.0,1717.3 L234.0,1716.9 L236.0,1716.6 L238.0,1716.3 L240.0,1715.9 L242.0,1715.6 L244.0,1715.2 L246.0,1714.9 L248.0,1714.5 L250.0,1714.2 L252.0,1713.8 L254.0,1713.5 L256.0,1713.1 L258.0,1712.8 L260.0,1712.5 L262.0,1712.1 L264.0,1711.8 L266.0,1711.4 L268.0,1711.1 L270.0,1710.8 L272.0,1710.4 L274.0,1710.1 L276.0,1709.7 L278.0,1709.4 L280.0,1709.1 L282.0,1708.7 L284.0,1708.4 L286.0,1708.1 L288.0,1707.7 L290.0,1707.4 L292.0,1707.1 L294.0,1706.7 L296.0,1706.4 L298.0,1706.1 L300.0,1705.7 L302.0,1705.4 L304.0,1705.1 L306.0,1704.8 L308.0,1704.4 L310.0,1704.1 L312.0,1703.8 L314.0,1703.4 L316.0,1703.1 L318.0,1702.8 L320.0,1702.5 L322.0,1702.1 L324.0,1701.8 L326.0,1701.5 L328.0,1701.2 L330.0,1700.8 L332.0,1700.5 L334.0,1700.2 L336.0,1699.9 L338.0,1699.6 L340.0,1699.2 L342.0,1698.9 L344.0,1698.6 L346.0,1698.3 L348.0,1698.0 L350.0,1697.6 L353.9,1697.0 L357.8,1696.4 L361.7,1695.8 L365.5,1695.2 L369.4,1694.6 L373.3,1694.0 L377.2,1693.4 L381.1,1692.8 L385.0,1692.2 L388.8,1691.6 L392.7,1691.0 L396.6,1690.4 L400.5,1689.8 L404.4,1689.2 L408.3,1688.6 L412.2,1688.0 L416.0,1687.4 L419.9,1686.8 L423.8,1686.3 L427.7,1685.7 L431.6,1685.1 L435.5,1684.5 L439.3,1683.9 L443.2,1683.4 L447.1,1682.8 L451.0,1682.2 L454.9,1681.6 L458.8,1681.1 L462.7,1680.5 L466.5,1679.9 L470.4,1679.4 L474.3,1678.8 L478.2,1678.3 L482.1,1677.7 L486.0,1677.1 L489.8,1676.6 L493.7,1676.0 L497.6,1675.5 L501.5,1674.9 L505.4,1674.4 L509.3,1673.8 L513.2,1673.3 L517.0,1672.7 L520.9,1672.2 L524.8,1671.7 L528.7,1671.1 L532.6,1670.6 L536.5,1670.0 L540.4,1669.5 L544.2,1669.0 L548.1,1668.4 L552.0,1667.9 L555.9,1667.4 L559.8,1666.9 L563.7,1666.3 L567.5,1665.8 L571.4,1665.3 L575.3,1664.8 L579.2,1664.2 L583.1,1663.7 L587.0,1663.2 L590.9,1662.7 L594.7,1662.2 L598.6,1661.7 L602.5,1661.2 L606.4,1660.6 L610.3,1660.1 L614.2,1659.6 L618.0,1659.1 L621.9,1658.6 L625.8,1658.1 L629.7,1657.6 L633.6,1657.1 L637.5,1656.6 L641.4,1656.1 L645.2,1655.6 L649.1,1655.1 L653.0,1654.6 L656.9,1654.2 L660.8,1653.7 L664.7,1653.2 L668.5,1652.7 L672.4,1652.2 L676.3,1651.7 L680.2,1651.2 L684.1,1650.8 L688.0,1650.3 L691.9,1649.8 L695.7,1649.3 L699.6,1648.8 L703.5,1648.4 L707.4,1647.9 L711.3,1647.4 L715.2,1647.0 L719.0,1646.5 L722.9,1646.0 L726.8,1645.6 L730.7,1645.1 L734.6,1644.6 L738.5,1644.2 L742.4,1643.7 L746.2,1643.2 L750.1,1642.8 L754.0,1642.3 L757.9,1641.9 L761.8,1641.4 L765.7,1641.0 L769.5,1640.5 L773.4,1640.1 L777.3,1639.6 L781.2,1639.2 L785.1,1638.7 L789.0,1638.3 L792.9,1637.8 L796.7,1637.4 L800.6,1636.9 L804.5,1636.5 L808.4,1636.1 L812.3,1635.6 L816.2,1635.2 L820.1,1634.7 L823.9,1634.3 L827.8,1633.9 L831.7,1633.4 L835.6,1633.0 L839.5,1632.6 L843.4,1632.2 L847.2,1631.7 L851.1,1631.3 L855.0,1630.9 L858.9,1630.4 L862.8,1630.0 L866.7,1629.6 L870.6,1629.2 L874.4,1628.8 L878.3,1628.3 L882.2,1627.9 L886.1,1627.5 L890.0,1627.1 L893.9,1626.7 L897.7,1626.3 L901.6,1625.9 L905.5,1625.5 L909.4,1625.0 L913.3,1624.6 L917.2,1624.2 L921.1,1623.8 L924.9,1623.4 L928.8,1623.0 L932.7,1622.6 L936.6,1622.2 L940.5,1621.8 L944.4,1621.4 L948.2,1621.0 L952.1,1620.6 L956.0,1620.2 L959.9,1619.8 L963.8,1619.4 L967.7,1619.0 L971.6,1618.6 L975.4,1618.3 L979.3,1617.9 L983.2,1617.5 L987.1,1617.1 L991.0,1616.7 L994.9,1616.3 L998.7,1615.9 L1002.6,1615.6 L1006.5,1615.2 L1010.4,1614.8 L1014.3,1614.4 L1018.2,1614.0 L1022.1,1613.7 L1025.9,1613.3 L1029.8,1612.9 L1033.7,1612.5 L1037.6,1612.1 L1041.5,1611.8 L1045.4,1611.4 L1049.2,1611.0 L1053.1,1610.7 L1057.0,1610.3 L1060.9,1609.9 L1064.8,1609.6 L1068.7,1609.2 L1072.6,1608.8 L1076.4,1608.5 L1080.3,1608.1 L1084.2,1607.7 L1088.1,1607.4 L1092.0,1607.0 L1095.9,1606.7 L1099.7,1606.3 L1103.6,1605.9 L1107.5,1605.6 L1111.4,1605.2 L1115.3,1604.9 L1119.2,1604.5 L1123.1,1604.2 L1126.9,1603.8 L1130.8,1603.5 L1134.7,1603.1 L1138.6,1602.8 L1142.5,1602.4 L1146.4,1602.1 L1150.3,1601.7 L1154.1,1601.4 L1158.0,1601.0 L1161.9,1600.7 L1165.8,1600.3 L1169.7,1600.0 L1173.6,1599.7 L1177.4,1599.3 L1181.3,1599.0 L1185.2,1598.7 L1189.1,1598.3 L1193.0,1598.0 L1196.9,1597.6 L1200.8,1597.3 L1204.6,1597.0 L1208.5,1596.6 L1212.4,1596.3 L1216.3,1596.0 L1220.2,1595.6 L1224.1,1595.3 L1227.9,1595.0 L1231.8,1594.7 L1235.7,1594.3 L1239.6,1594.0 L1243.5,1593.7 L1247.4,1593.4 L1251.3,1593.0 L1255.1,1592.7 L1259.0,1592.4 L1262.9,1592.1 L1266.8,1591.8 L1270.7,1591.4 L1274.6,1591.1 L1278.4,1590.8 L1282.3,1590.5 L1286.2,1590.2 L1290.1,1589.8 L1294.0,1589.5 L1297.9,1589.2 L1301.8,1588.9 L1305.6,1588.6 L1309.5,1588.3 L1313.4,1588.0 L1317.3,1587.7 L1321.2,1587.4 L1325.1,1587.0 L1328.9,1586.7 L1332.8,1586.4 L1336.7,1586.1 L1340.6,1585.8 L1344.5,1585.5 L1348.4,1585.2 L1352.3,1584.9 L1356.1,1584.6 L1360.0,1584.3 L1363.9,1584.0 L1367.8,1583.7 L1371.7,1583.4 L1375.6,1583.1 L1379.4,1582.8 L1383.3,1582.5 L1387.2,1582.2 L1391.1,1581.9 L1395.0,1581.6 L1398.9,1581.3 L1402.8,1581.0 L1406.6,1580.8 L1410.5,1580.5 L1414.4,1580.2 L1418.3,1579.9 L1422.2,1579.6 L1426.1,1579.3 L1429.9,1579.0 L1433.8,1578.7 L1437.7,1578.4 L1441.6,1578.2 L1445.5,1577.9 L1449.4,1577.6 L1453.3,1577.3 L1457.1,1577.0 L1461.0,1576.7 L1464.9,1576.5 L1468.8,1576.2 L1472.7,1575.9 L1476.6,1575.6 L1480.5,1575.3 L1484.3,1575.1 L1488.2,1574.8 L1492.1,1574.5 L1496.0,1574.2 L1499.9,1574.0 L1503.8,1573.7 L1507.6,1573.4 L1511.5,1573.1 L1515.4,1572.9 L1519.3,1572.6 L1523.2,1572.3 L1527.1,1572.1 L1531.0,1571.8 L1534.8,1571.5 L1538.7,1571.3 L1542.6,1571.0 L1546.5,1570.7 L1550.4,1570.4 L1554.3,1570.2 L1558.1,1569.9 L1562.0,1569.7 L1565.9,1569.4 L1569.8,1569.1 L1573.7,1568.9 L1577.6,1568.6 L1581.5,1568.3 L1585.3,1568.1 L1589.2,1567.8 L1593.1,1567.6 L1597.0,1567.3 L1600.9,1567.0 L1604.8,1566.8 L1608.6,1566.5 L1612.5,1566.3 L1616.4,1566.0 L1620.3,1565.8 L1624.2,1565.5 L1628.1,1565.3 L1632.0,1565.0 L1635.8,1564.7 L1639.7,1564.5 L1643.6,1564.2 L1647.5,1564.0 L1651.4,1563.7 L1655.3,1563.5 L1659.1,1563.2 L1663.0,1563.0 L1666.9,1562.8 L1670.8,1562.5 L1674.7,1562.3 L1678.6,1562.0 L1682.5,1561.8 L1686.3,1561.5 L1690.2,1561.3 L1694.1,1561.0 L1698.0,1560.8 L1701.9,1560.5 L1705.8,1560.3 L1709.6,1560.1 L1713.5,1559.8 L1717.4,1559.6 L1721.3,1559.3 L1725.2,1559.1 L1729.1,1558.9 L1733.0,1558.6 L1736.8,1558.4 L1740.7,1558.2 L1744.6,1557.9 L1748.5,1557.7 L1752.4,1557.4 L1756.3,1557.2 L1760.2,1557.0 L1764.0,1556.7 L1767.9,1556.5 L1771.8,1556.3 L1775.7,1556.0 L1779.6,1555.8 L1783.5,1555.6 L1787.3,1555.4 L1791.2,1555.1 L1795.1,1554.9 L1799.0,1554.7 L1802.9,1554.4 L1806.8,1554.2 L1810.7,1554.0 L1814.5,1553.8 L1818.4,1553.5 L1822.3,1553.3 L1826.2,1553.1 L1830.1,1552.9 L1834.0,1552.6 L1837.8,1552.4 L1841.7,1552.2 L1845.6,1552.0 L1849.5,1551.7 L1853.4,1551.5 L1857.3,1551.3 L1861.2,1551.1 L1865.0,1550.9 L1868.9,1550.6 L1872.8,1550.4 L1876.7,1550.2 L1880.6,1550.0 L1884.5,1549.8 L1888.3,1549.5 L1892.2,1549.3 L1896.1,1549.1 L1900.0,1548.9" stroke="#C44444" stroke-width="14.5"/>
</g>
<g stroke="#000" stroke-width="7" fill="none" stroke-linecap="butt">
<path d="M1900.0,279.8 V411.4 M1885.0,279.8 H1915.0 M1885.0,411.4 H1915.0"/>
<path d="M1900.0,515.9 V619.0 M1885.0,515.9 H1915.0 M1885.0,619.0 H1915.0"/>
<path d="M1900.0,661.3 V743.7 M1885.0,661.3 H1915.0 M1885.0,743.7 H1915.0"/>
<path d="M1900.0,1133.4 V1251.6 M1885.0,1133.4 H1915.0 M1885.0,1251.6 H1915.0"/>
<path d="M1900.0,1429.5 V1450.0 M1885.0,1429.5 H1915.0 M1885.0,1450.0 H1915.0"/>
<path d="M1900.0,1531.5 V1555.0 M1885.0,1531.5 H1915.0 M1885.0,1555.0 H1915.0"/>
</g>
<circle cx="1900.0" cy="366.8" r="18" fill="#A993C6"/>
<circle cx="1900.0" cy="570.9" r="18" fill="#FFB900"/>
<circle cx="1900.0" cy="685.3" r="18" fill="#6B9427"/>
<circle cx="1900.0" cy="1182.2" r="18" fill="#3F7FDB"/>
<circle cx="1900.0" cy="1443.9" r="18" fill="#2585A2"/>
<circle cx="1900.0" cy="1548.9" r="18" fill="#AB3C3C"/>
<line x1="300.5" y1="132.5" x2="432" y2="132.5" stroke="#A993C6" stroke-width="9.5" stroke-linecap="round"/>
<text transform="translate(448.3,154.3) scale(0.9314,1)" font-size="71">TPU 100A</text>
<line x1="300.5" y1="242.5" x2="432" y2="242.5" stroke="#FFB900" stroke-width="9.5" stroke-linecap="round"/>
<text transform="translate(448.3,264.3) scale(0.9182,1)" font-size="71">TPU 93A</text>
<line x1="300.5" y1="353.5" x2="432" y2="353.5" stroke="#6B9427" stroke-width="9.5" stroke-linecap="round"/>
<text transform="translate(448.3,375.3) scale(0.9182,1)" font-size="71">TPU 90A</text>
<line x1="300.5" y1="465.5" x2="432" y2="465.5" stroke="#3F7FDB" stroke-width="9.5" stroke-linecap="round"/>
<text transform="translate(448.3,487.3) scale(0.9182,1)" font-size="71">TPU 85A</text>
<line x1="300.5" y1="576" x2="433" y2="576" stroke="#1F7F9A" stroke-width="13.5" stroke-linecap="round"/>
<text transform="translate(448.3,597.8) scale(0.9285,1)" font-size="71">TPE 70A</text>
<line x1="300.5" y1="689" x2="433" y2="689" stroke="#C44444" stroke-width="13.5" stroke-linecap="round"/>
<text transform="translate(448.3,710.8) scale(0.9285,1)" font-size="71">TPE 60A</text>
<text transform="translate(230.1,1821.5) scale(0.955,1)" text-anchor="middle" font-size="71">0</text>
<text transform="translate(508.5,1821.5) scale(0.955,1)" text-anchor="middle" font-size="71">10</text>
<text transform="translate(786.9,1821.5) scale(0.955,1)" text-anchor="middle" font-size="71">20</text>
<text transform="translate(1065.3,1821.5) scale(0.955,1)" text-anchor="middle" font-size="71">30</text>
<text transform="translate(1343.7,1821.5) scale(0.955,1)" text-anchor="middle" font-size="71">40</text>
<text transform="translate(1622.1,1821.5) scale(0.955,1)" text-anchor="middle" font-size="71">50</text>
<text transform="translate(1900.5,1821.5) scale(0.955,1)" text-anchor="middle" font-size="71">60</text>
<text transform="translate(2178.9,1821.5) scale(0.955,1)" text-anchor="middle" font-size="71">70</text>
<text transform="translate(173.5,1742.2) scale(0.955,1)" text-anchor="end" font-size="71">0</text>
<text transform="translate(173.5,1534.6) scale(0.955,1)" text-anchor="end" font-size="71">1</text>
<text transform="translate(173.5,1327.1) scale(0.955,1)" text-anchor="end" font-size="71">2</text>
<text transform="translate(173.5,1119.5) scale(0.955,1)" text-anchor="end" font-size="71">3</text>
<text transform="translate(173.5,911.9) scale(0.955,1)" text-anchor="end" font-size="71">4</text>
<text transform="translate(173.5,704.4) scale(0.955,1)" text-anchor="end" font-size="71">5</text>
<text transform="translate(173.5,496.8) scale(0.955,1)" text-anchor="end" font-size="71">6</text>
<text transform="translate(173.5,289.2) scale(0.955,1)" text-anchor="end" font-size="71">7</text>
<text transform="translate(173.5,81.6) scale(0.955,1)" text-anchor="end" font-size="71">8</text>
<text transform="translate(1126.7,1925.0) scale(0.9490,1)" font-size="71">Strain (%)</text>
<text transform="translate(81.3,1102.8) rotate(-90) scale(0.9357,1)" font-size="71" xml:space="preserve"><tspan x="4.8">Tensile </tspan><tspan x="229.6">stress </tspan><tspan x="410.2">(MPa)</tspan></text>
</g>
</svg>
</body>
</html>
